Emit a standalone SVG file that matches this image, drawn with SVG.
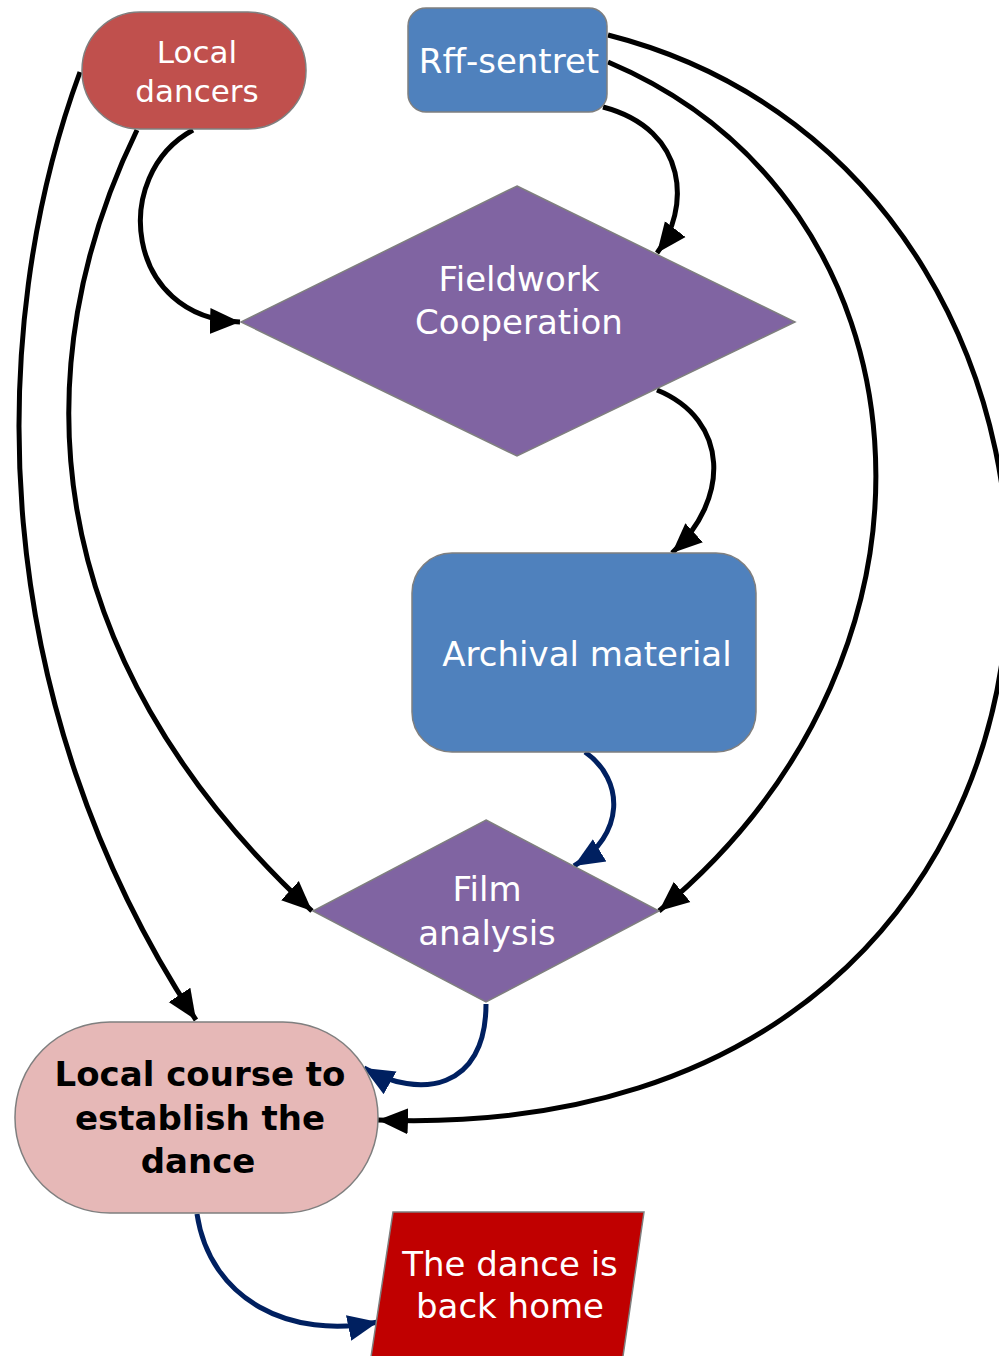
<svg xmlns="http://www.w3.org/2000/svg" width="999" height="1356" viewBox="0 0 999 1356">
<style>
.t{font-family:"DejaVu Sans","Verdana",sans-serif;font-size:34px;fill:#ffffff;text-anchor:middle}
.b{font-family:"DejaVu Sans","Verdana",sans-serif;font-size:34px;font-weight:bold;fill:#000000;text-anchor:middle}
.s{stroke:#7f7f7f;stroke-width:1.5}
.k{fill:none;stroke:#000000;stroke-width:5}
.n{fill:none;stroke:#002060;stroke-width:5}
</style>
<defs>
<marker id="ak" markerUnits="userSpaceOnUse" markerWidth="32" markerHeight="32" viewBox="0 0 32 32" refX="30" refY="16" orient="auto">
<path d="M0,3 L30,16 L0,29 Z" fill="#000000"/>
</marker>
<marker id="an" markerUnits="userSpaceOnUse" markerWidth="32" markerHeight="32" viewBox="0 0 32 32" refX="30" refY="16" orient="auto">
<path d="M0,3 L30,16 L0,29 Z" fill="#002060"/>
</marker>
</defs>
<g id="connectors">
<path class="k" d="M80,72 C -15,330 -15,700 196,1020" marker-end="url(#ak)"/>
<path class="k" d="M137,130 C 25,360 30,650 312,911" marker-end="url(#ak)"/>
<path class="k" d="M193,130 C 110,175 125,318 240,322" marker-end="url(#ak)"/>
<path class="k" d="M603,107 C 690,130 690,210 657,253" marker-end="url(#ak)"/>
<path class="k" d="M608,62 C 935,200 975,650 659,911" marker-end="url(#ak)"/>
<path class="k" d="M608,35 C 1180,180 1170,1150 378,1120" marker-end="url(#ak)"/>
<path class="k" d="M657,390 C 730,420 730,500 672,553" marker-end="url(#ak)"/>
<path class="n" d="M585,752 C 625,780 625,835 574,866" marker-end="url(#an)"/>
<path class="n" d="M486,1004 C 486,1090 420,1100 364,1068" marker-end="url(#an)"/>
<path class="n" d="M197,1214 C 210,1300 290,1340 378,1322" marker-end="url(#an)"/>
</g>
<g id="local-dancers">
<rect class="s" x="82" y="12" width="224" height="117" rx="58" fill="#C0504D"/>
<text class="t" style="font-size:31px" x="197" y="63">Local</text>
<text class="t" style="font-size:31px" x="197" y="102">dancers</text>
</g>
<g id="rff-sentret">
<rect class="s" x="408" y="8" width="199" height="104" rx="18" fill="#4F81BD"/>
<text class="t" x="509" y="73">Rff-sentret</text>
</g>
<g id="fieldwork">
<polygon class="s" points="517,186 795,322 517,456 241,322" fill="#8064A2"/>
<text class="t" x="519" y="291">Fieldwork</text>
<text class="t" x="519" y="334">Cooperation</text>
</g>
<g id="archival">
<rect class="s" x="412" y="553" width="344" height="199" rx="40" fill="#4F81BD"/>
<text class="t" x="587" y="666">Archival material</text>
</g>
<g id="film-analysis">
<polygon class="s" points="486,820 659,911 486,1002 313,911" fill="#8064A2"/>
<text class="t" x="487" y="901">Film</text>
<text class="t" x="487" y="945">analysis</text>
</g>
<g id="local-course">
<rect class="s" x="15" y="1022" width="363" height="191" rx="95" fill="#E6B8B7"/>
<text class="b" x="200" y="1086">Local course to</text>
<text class="b" x="200" y="1130">establish the</text>
<text class="b" x="198" y="1173">dance</text>
</g>
<g id="dance-home">
<polygon class="s" points="393,1212 644,1212 621,1370 369,1370" fill="#C00000"/>
<text class="t" x="510" y="1276">The dance is</text>
<text class="t" x="510" y="1318">back home</text>
</g>
</svg>
